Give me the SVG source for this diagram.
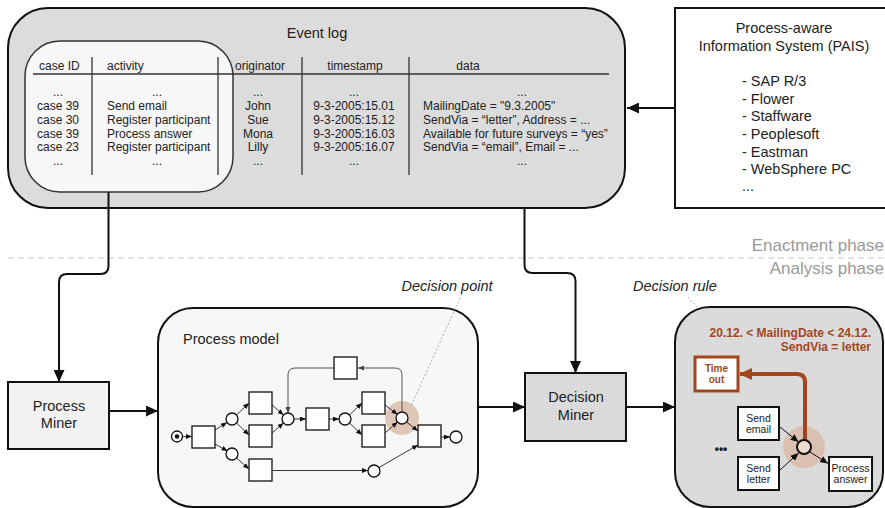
<svg xmlns="http://www.w3.org/2000/svg" width="885" height="508" viewBox="0 0 885 508">
<style>
text{font-family:"Liberation Sans",Arial,sans-serif;fill:#222}
.t12{font-size:12px}
.t14{font-size:14.5px}
.c{text-anchor:middle}
.r{text-anchor:end}
.it{font-style:italic;font-size:14.5px}
.phase{font-size:17px;fill:#9a9a9a}
.conn{fill:none;stroke:#111;stroke-width:2}
.div{stroke:#333;stroke-width:1.3}
.arc{fill:none;stroke:#222;stroke-width:0.9}
.loop{fill:none;stroke:#555;stroke-width:1}
.tr{fill:#fff;stroke:#111;stroke-width:1.3}
.pl{fill:#fff;stroke:#111;stroke-width:1.3}
.hl{fill:#d9b9a6;opacity:0.8}
.brown{fill:#a3461e;font-weight:bold}
.small{font-size:10.5px}
.dotl{stroke:#888;stroke-width:0.7;stroke-dasharray:2,2;fill:none}
</style>
<defs>
<marker id="big" markerUnits="userSpaceOnUse" markerWidth="12" markerHeight="11" refX="12" refY="5.5" orient="auto"><path d="M0,0 L12,5.5 L0,11 z" fill="#111"/></marker>
<marker id="sm" markerUnits="userSpaceOnUse" markerWidth="6" markerHeight="5" refX="6" refY="2.5" orient="auto"><path d="M0,0 L6,2.5 L0,5 z" fill="#111"/></marker>
<marker id="smg" markerUnits="userSpaceOnUse" markerWidth="6" markerHeight="5" refX="6" refY="2.5" orient="auto"><path d="M0,0 L6,2.5 L0,5 z" fill="#444"/></marker>
<marker id="mid" markerUnits="userSpaceOnUse" markerWidth="8" markerHeight="7" refX="8" refY="3.5" orient="auto"><path d="M0,0 L8,3.5 L0,7 z" fill="#111"/></marker>
<marker id="brn" markerUnits="userSpaceOnUse" markerWidth="13" markerHeight="12" refX="12" refY="6" orient="auto"><path d="M0,0 L13,6 L0,12 z" fill="#a3461e"/></marker>
<pattern id="hatch" width="3" height="3" patternUnits="userSpaceOnUse"><rect width="3" height="3" fill="#dcdcdc"/><rect width="1" height="1" fill="#cfcfcf"/></pattern>
</defs>

<!-- phase separator -->
<g id="phases">
<line x1="8" y1="258" x2="885" y2="258" stroke="#c8c8c8" stroke-width="1" stroke-dasharray="6,4"/>
<text class="phase r" x="884" y="251">Enactment phase</text>
<text class="phase r" x="884" y="274">Analysis phase</text>
</g>

<!-- Event log -->
<g id="event-log">
<rect x="8" y="8" width="617" height="200" rx="40" fill="#dcdcdc" stroke="#111" stroke-width="2"/>
<rect x="25" y="41" width="208" height="151" rx="35" fill="#f7f7f7" stroke="#333" stroke-width="1.5"/>
<text class="t14 c" x="317" y="38">Event log</text>
<line class="div" x1="33" y1="74" x2="609" y2="74"/>
<line class="div" x1="92" y1="57" x2="92" y2="175"/>
<line class="div" x1="218" y1="57" x2="218" y2="175"/>
<line class="div" x1="302" y1="57" x2="302" y2="175"/>
<line class="div" x1="409" y1="57" x2="409" y2="175"/>
<g class="t12">
<text x="39" y="70">case ID</text>
<text x="107" y="70">activity</text>
<text x="235" y="70">originator</text>
<text class="c" x="355" y="70">timestamp</text>
<text class="c" x="468" y="70">data</text>
<text class="c" x="58" y="96">...</text>
<text class="c" x="58" y="110">case 39</text>
<text class="c" x="58" y="124">case 30</text>
<text class="c" x="58" y="137.5">case 39</text>
<text class="c" x="58" y="151">case 23</text>
<text class="c" x="58" y="165">...</text>
<text class="c" x="157" y="96">...</text>
<text x="107" y="110">Send email</text>
<text x="107" y="124">Register participant</text>
<text x="107" y="137.5">Process answer</text>
<text x="107" y="151">Register participant</text>
<text class="c" x="157" y="165">...</text>
<text class="c" x="258" y="96">...</text>
<text class="c" x="258" y="110">John</text>
<text class="c" x="258" y="124">Sue</text>
<text class="c" x="258" y="137.5">Mona</text>
<text class="c" x="258" y="151">Lilly</text>
<text class="c" x="258" y="165">...</text>
<text class="c" x="354" y="96">...</text>
<text class="c" x="354" y="110">9-3-2005:15.01</text>
<text class="c" x="354" y="124">9-3-2005:15.12</text>
<text class="c" x="354" y="137.5">9-3-2005:16.03</text>
<text class="c" x="354" y="151">9-3-2005:16.07</text>
<text class="c" x="354" y="165">...</text>
<text class="c" x="522" y="96">...</text>
<text x="423" y="110">MailingDate = "9.3.2005"</text>
<text x="423" y="124">SendVia = “letter”, Address = ...</text>
<text x="423" y="137.5">Available for future surveys = “yes”</text>
<text x="423" y="151">SendVia = “email”, Email = ...</text>
<text class="c" x="522" y="165">...</text>
</g>
</g>

<!-- PAIS -->
<g id="pais">
<rect x="675" y="8" width="220" height="200" fill="#fff" stroke="#111" stroke-width="2"/>
<text class="t14 c" x="784" y="33">Process-aware</text>
<text class="t14 c" x="784" y="51">Information System (PAIS)</text>
<text class="t14" x="742" y="86">- SAP R/3</text>
<text class="t14" x="742" y="103.5">- Flower</text>
<text class="t14" x="742" y="121">- Staffware</text>
<text class="t14" x="742" y="139">- Peoplesoft</text>
<text class="t14" x="742" y="156.5">- Eastman</text>
<text class="t14" x="742" y="174">- WebSphere PC</text>
<text class="t14" x="742" y="191" fill="#222" style="fill:#222">...</text>
</g>

<!-- Process Miner -->
<g id="process-miner">
<rect x="8" y="382" width="101" height="67" fill="#f2f2f2" stroke="#111" stroke-width="2"/>
<text class="t14 c" x="59" y="411">Process</text>
<text class="t14 c" x="59" y="428">Miner</text>
</g>

<!-- Process model -->
<g id="process-model">
<rect x="158" y="308" width="320" height="199" rx="35" fill="#f7f7f7" stroke="#111" stroke-width="2"/>
<text class="t14" x="183" y="344">Process model</text>
<circle class="hl" cx="402" cy="418" r="17"/>
<path class="loop" d="M402,412 V375 Q402,368 395,368 H358" marker-end="url(#smg)"/>
<path class="loop" d="M334,368 H295 Q288,368 288,375 V413" marker-end="url(#smg)"/>
<g class="arc">
<path d="M182.5,436.5 L192,436.5" marker-end="url(#sm)"/>
<path d="M215,430 L227,422.5" marker-end="url(#sm)"/>
<path d="M215,444 L227.5,451" marker-end="url(#sm)"/>
<path d="M236.5,415 L249,403" marker-end="url(#sm)"/>
<path d="M236.5,423 L249,435" marker-end="url(#sm)"/>
<path d="M236.5,458 L249,469" marker-end="url(#sm)"/>
<path d="M272,405 L283.5,415" marker-end="url(#sm)"/>
<path d="M272,433 L283.5,423" marker-end="url(#sm)"/>
<path d="M294,419 L306,419" marker-end="url(#sm)"/>
<path d="M329,419 L339,419" marker-end="url(#sm)"/>
<path d="M349.5,415 L362,403" marker-end="url(#sm)"/>
<path d="M349.5,423 L362,435" marker-end="url(#sm)"/>
<path d="M385,405 L397.5,414.5" marker-end="url(#sm)"/>
<path d="M385,433 L397.5,422" marker-end="url(#sm)"/>
<path d="M406.5,422 L418,431" marker-end="url(#sm)"/>
<path d="M441,437 L450,437" marker-end="url(#sm)"/>
<path d="M272,470.5 L368,470.5" marker-end="url(#sm)"/>
<path d="M379,467.5 L418,445" marker-end="url(#sm)"/>
</g>
<circle class="pl" cx="177" cy="436.5" r="5.5"/>
<circle cx="177" cy="436.5" r="2.3" fill="#111"/>
<circle class="pl" cx="232" cy="419" r="6"/>
<circle class="pl" cx="232" cy="454" r="6"/>
<circle class="pl" cx="288" cy="419" r="6"/>
<circle class="pl" cx="345" cy="419" r="6"/>
<circle class="pl" cx="402" cy="418" r="6"/>
<circle class="pl" cx="456" cy="437" r="6"/>
<circle class="pl" cx="374" cy="471" r="6"/>
<rect class="tr" x="192" y="426" width="23" height="22"/>
<rect class="tr" x="249" y="392" width="23" height="22"/>
<rect class="tr" x="249" y="425" width="23" height="22"/>
<rect class="tr" x="249" y="459" width="23" height="22"/>
<rect class="tr" x="306" y="408" width="23" height="22"/>
<rect class="tr" x="334" y="357" width="23" height="22"/>
<rect class="tr" x="362" y="392" width="23" height="22"/>
<rect class="tr" x="362" y="425" width="23" height="22"/>
<rect class="tr" x="418" y="425" width="23" height="22"/>
</g>

<!-- Decision point label -->
<g id="decision-point-label">
<text class="it c" x="447" y="291">Decision point</text>
<line class="dotl" x1="462" y1="294" x2="411" y2="406"/>
</g>

<!-- Decision Miner -->
<g id="decision-miner">
<rect x="525" y="373" width="101" height="68" fill="url(#hatch)" stroke="#111" stroke-width="2"/>
<text class="t14 c" x="576" y="402">Decision</text>
<text class="t14 c" x="576" y="420">Miner</text>
</g>

<!-- Decision rule label -->
<g id="decision-rule-label">
<text class="it c" x="675" y="291">Decision rule</text>
<line class="dotl" x1="688" y1="297" x2="713" y2="324"/>
</g>

<!-- Result model with decision rule -->
<g id="decision-model">
<rect x="675" y="307" width="208" height="200" rx="35" fill="url(#hatch)" stroke="#111" stroke-width="2"/>
<text class="brown r" style="font-size:12px" x="871" y="337">20.12. &lt; MailingDate &lt; 24.12.</text>
<text class="brown r" style="font-size:12px" x="871" y="351">SendVia = letter</text>
<circle class="hl" cx="804" cy="447" r="21"/>
<path d="M805,440 V382 Q805,374 797,374 H740" fill="none" stroke="#a3461e" stroke-width="4" marker-end="url(#brn)"/>
<g id="timeout">
<rect x="695" y="357" width="43" height="34" fill="#fff" stroke="#a3461e" stroke-width="3"/>
<text class="brown c" style="font-size:10px" x="716.5" y="372">Time</text>
<text class="brown c" style="font-size:10px" x="716.5" y="383">out</text>
</g>
<g id="send-email">
<rect x="738" y="407" width="41" height="33" fill="#fff" stroke="#111" stroke-width="2"/>
<text class="small c" x="758.5" y="422">Send</text>
<text class="small c" x="758.5" y="433">email</text>
</g>
<g id="send-letter">
<rect x="738" y="457" width="41" height="33" fill="#fff" stroke="#111" stroke-width="2"/>
<text class="small c" x="758.5" y="472">Send</text>
<text class="small c" x="758.5" y="483">letter</text>
</g>
<g id="process-answer">
<rect x="829" y="457" width="43" height="34" fill="#fff" stroke="#111" stroke-width="2"/>
<text class="small c" x="850.5" y="472">Process</text>
<text class="small c" x="850.5" y="483">answer</text>
</g>
<path d="M780,427 L798.5,442" fill="none" stroke="#111" stroke-width="1" marker-end="url(#mid)"/>
<path d="M780,470 L798.5,453" fill="none" stroke="#111" stroke-width="1" marker-end="url(#mid)"/>
<path d="M810,452 L828,463.5" fill="none" stroke="#111" stroke-width="1" marker-end="url(#mid)"/>
<circle cx="804" cy="447" r="7" fill="#f0dccf" stroke="#111" stroke-width="2"/>
<text x="721" y="453" class="c" style="font-size:12px;font-weight:bold">•••</text>
</g>

<!-- connectors -->
<g id="connectors">
<path class="conn" d="M675,108 H627" marker-end="url(#big)"/>
<path class="conn" d="M108.5,192 V266 Q108.5,274 100.5,274 H67 Q59,274 59,282 V382" marker-end="url(#big)"/>
<path class="conn" d="M524.5,208 V265 Q524.5,273 532.5,273 H567 Q575.5,273 575.5,281 V373" marker-end="url(#big)"/>
<path class="conn" d="M109,411 H158" marker-end="url(#big)"/>
<path class="conn" d="M478,407 H525" marker-end="url(#big)"/>
<path class="conn" d="M626,407 H675" marker-end="url(#big)"/>
</g>
</svg>
